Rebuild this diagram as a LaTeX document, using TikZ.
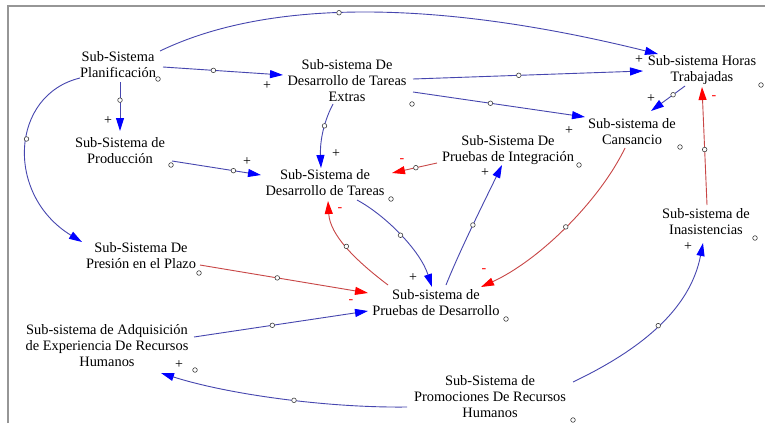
\documentclass[tikz,border=0pt]{standalone}
\usepackage{fontspec}
\setmainfont{Liberation Serif}
\usetikzlibrary{arrows.meta,calc}
\definecolor{bl}{RGB}{70,70,175}
\definecolor{rd}{RGB}{200,70,70}
\definecolor{frame}{RGB}{150,150,150}
\tikzset{
  var/.style={align=center,inner sep=0pt,font=\rmfamily\fontsize{14.4}{16}\selectfont},
  pol/.style={inner sep=0pt,font=\rmfamily\fontsize{14}{16}\selectfont},
  neg/.style={pol,text=red},
  mk/.style={circle,draw=black!75,fill=white,line width=0.6pt,inner sep=0pt,minimum size=4.6pt},
  posl/.style={bl,line width=0.9pt,-{Triangle[length=13pt,width=8pt,color=blue]}},
  negl/.style={rd,line width=0.9pt,-{Triangle[length=13pt,width=8pt,color=red]}},
}
\begin{document}
\begin{tikzpicture}[x=1pt,y=-1pt]
\useasboundingbox (0,0) rectangle (765,423);
\fill[white] (0,0) rectangle (765,423);
\draw[frame,line width=1.2pt] (8,423) -- (8,6) -- (765,6);

% variables
\node[var] (plan) at (118,65) {Sub-Sistema\\Planificación};
\node[var] (extras) at (347,81) {Sub-sistema De\\Desarrollo de Tareas\\Extras};
\node[var] (horas) at (702,70) {Sub-sistema Horas\\Trabajadas};
\node[var] (prod) at (120,151) {Sub-Sistema de\\Producción};
\node[var] (tareas) at (325,183) {Sub-Sistema de\\Desarrollo de Tareas};
\node[var] (integ) at (508,150) {Sub-Sistema De\\Pruebas de Integración};
\node[var] (cans) at (632,132) {Sub-sistema de\\Cansancio};
\node[var] (pres) at (141,256) {Sub-Sistema De\\Presión en el Plazo};
\node[var] (inas) at (706,222) {Sub-sistema de\\Inasistencias};
\node[var] (pruebas) at (436,303) {Sub-sistema de\\Pruebas de Desarrollo};
\node[var] (adq) at (107,346) {Sub-sistema de Adquisición\\de Experiencia De Recursos\\Humanos};
\node[var] (promo) at (490,397) {Sub-Sistema de\\Promociones De Recursos\\Humanos};

% corner markers
\foreach \p in {(158,79),(412,104),(761,85),(171,165),(391,199),(579,165),(680,147),(199,273),(755,238),(506,319),(195,370),(573,420)}
  \node[mk] at \p {};

% connectors
\draw[posl] ($(plan)+(42,-14)$) .. controls +(110,-53) and +(-218,-54) .. ($(horas)+(-44,-16)$) node[mk,pos=0.44]{};
\draw[posl] ($(plan)+(45,2)$) -- ($(extras)+(-64,-6)$) node[mk,pos=0.42]{};
\draw[posl] ($(plan)+(2,17)$) -- ($(prod)+(0,-20)$) node[mk,pos=0.37]{};
\draw[posl] ($(plan)+(-38,13)$) .. controls +(-70,17) and +(-77,-47) .. ($(pres)+(-59,-14)$) node[mk,pos=0.45]{};
\draw[posl] ($(extras)+(66,-2)$) -- ($(horas)+(-59,1)$) node[mk,pos=0.46]{};
\draw[posl] ($(extras)+(66,11)$) -- ($(cans)+(-47,-15)$) node[mk,pos=0.45]{};
\draw[posl] ($(extras)+(-14,23)$) .. controls +(-11,21) and +(-1,-23) .. ($(tareas)+(-4,-15)$) node[mk,pos=0.35]{};
\draw[posl] ($(horas)+(-17,16)$) -- ($(cans)+(19,-21)$) node[mk,pos=0.35]{};
\draw[posl] ($(prod)+(52,10)$) -- ($(tareas)+(-64,-8)$) node[mk,pos=0.69]{};
\draw[negl] ($(integ)+(-71,13)$) -- ($(tareas)+(67,-10)$) node[mk,pos=0.47]{};
\draw[posl] ($(tareas)+(32,17)$) .. controls +(28,15) and +(-12,-37) .. ($(pruebas)+(-4,-16)$) node[mk,pos=0.5]{};
\draw[negl] ($(pruebas)+(-48,-18)$) .. controls +(-33,-25) and +(2,34) .. ($(tareas)+(3,18)$) node[mk,pos=0.5]{};
\draw[posl] ($(pruebas)+(10,-18)$) .. controls +(14,-35) and +(-17,35) .. ($(integ)+(-6,15)$) node[mk,pos=0.5]{};
\draw[negl] ($(cans)+(-7,16)$) .. controls +(-25,52) and +(59,-27) .. ($(pruebas)+(45,-16)$) node[mk,pos=0.5]{};
\draw[negl] ($(pres)+(59,9)$) -- ($(pruebas)+(-68,-10)$) node[mk,pos=0.46]{};
\draw[posl] ($(adq)+(87,-9)$) -- ($(pruebas)+(-68,8)$) node[mk,pos=0.45]{};
\draw[posl] ($(promo)+(-83,10)$) .. controls +(-77,1) and +(69,22) .. ($(adq)+(54,27)$) node[mk,pos=0.45]{};
\draw[posl] ($(promo)+(83,-15)$) .. controls +(67,-32) and +(-13,67) .. ($(inas)+(-3,21)$) node[mk,pos=0.5]{};
\draw[negl] ($(inas)+(1,-17)$) -- ($(horas)+(0,17)$) node[mk,pos=0.47]{};

% polarities
\node[pol] (p1) at (639,60) {+};
\node[pol] (p2) at (267,86) {+};
\node[pol] (p3) at (108,121) {+};
\node[pol] (p4) at (336,154) {+};
\node[pol] (p5) at (569,131) {+};
\node[pol] (p6) at (651,99) {+};
\node[pol] (p7) at (247,162) {+};
\node[pol] (p8) at (413,278) {+};
\node[pol] (p9) at (485,173) {+};
\node[pol] (p10) at (179,365) {+};
\node[pol] (p11) at (688,247) {+};
\node[neg] (n1) at (402,161) {-};
\node[neg] (n2) at (340,210) {-};
\node[neg] (n3) at (484,271) {-};
\node[neg] (n4) at (351,302) {-};
\node[neg] (n5) at (714,98) {-};
\end{tikzpicture}
\end{document}
